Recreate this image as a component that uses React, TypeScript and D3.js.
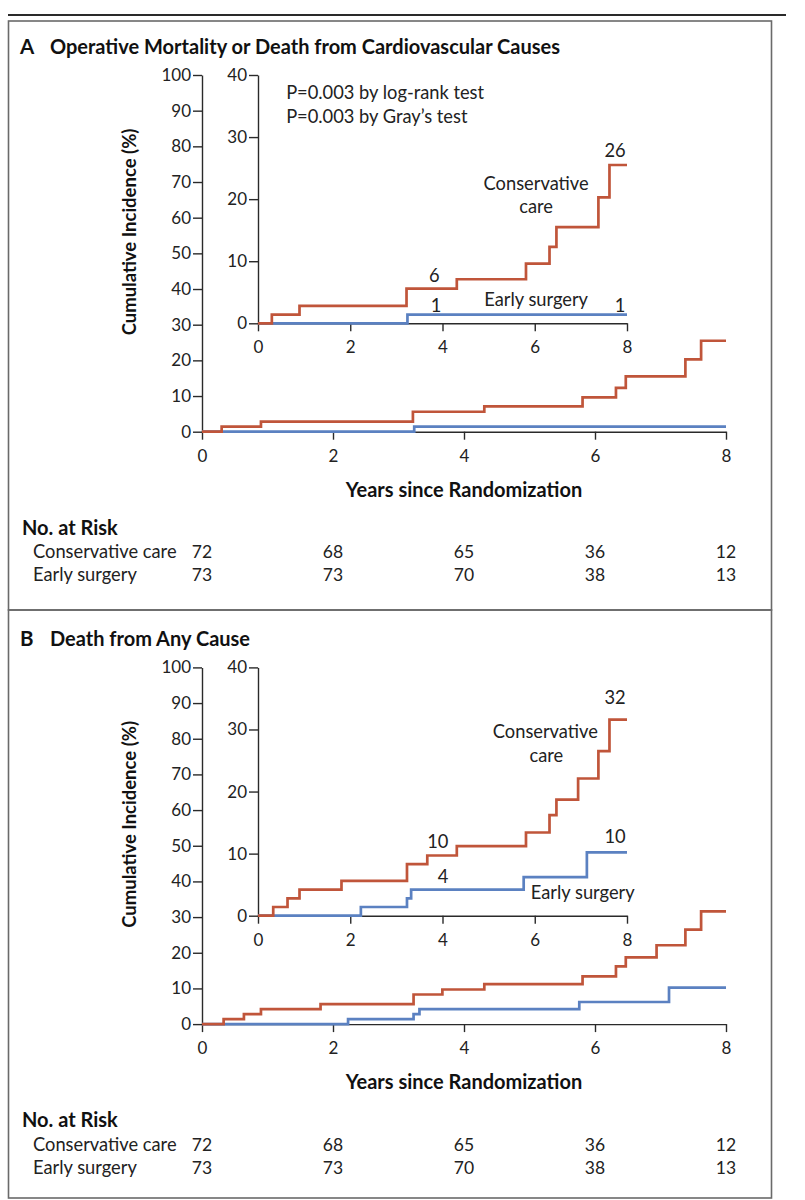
import { useEffect, useRef } from "react"
import * as d3 from "d3"

const FONT = "Lato, 'Open Sans', sans-serif"
const RED = "#c0553a"
const BLUE = "#5b81c1"
const INK = "#2a2a2a"

const yearTicks = [0, 2, 4, 6, 8]
const mainTicks = [0, 10, 20, 30, 40, 50, 60, 70, 80, 90, 100]
const insetTicks = [0, 10, 20, 30, 40]
const groups = ["Conservative care", "Early surgery"]

// Panel A: operative mortality or CV death
const cvConsYears = [0, 0.3, 0.9, 3.22, 4.31, 5.81, 6.32, 6.47, 7.38, 7.62, 8]
const cvConsPct = [0, 1.4, 2.8, 5.6, 7.1, 9.6, 12.3, 15.5, 20.3, 25.5, 25.5]
const cvSurgYears = [0, 3.24, 8]
const cvSurgPct = [0, 1.4, 1.4]
const cvRiskCons = [72, 68, 65, 36, 12]
const cvRiskSurg = [73, 73, 70, 38, 13]

// Panel B: death from any cause
const allConsYears = [0, 0.33, 0.64, 0.9, 1.81, 3.23, 3.67, 4.31, 5.81, 6.32, 6.47, 6.94, 7.38, 7.62, 8]
const allConsPct = [0, 1.4, 2.8, 4.2, 5.6, 8.3, 9.7, 11.2, 13.4, 16.2, 18.7, 22.1, 26.5, 31.6, 31.6]
const allSurgYears = [0, 2.23, 3.23, 3.32, 5.76, 7.13, 8]
const allSurgPct = [0, 1.4, 2.8, 4.2, 6.2, 10.2, 10.2]
const allRiskCons = [72, 68, 65, 36, 12]
const allRiskSurg = [73, 73, 70, 38, 13]

type Note = { text: string; t: number; v: number; anchor?: string }

const panels = [
  {
    letter: "A",
    title: "Operative Mortality or Death from Cardiovascular Causes",
    dy: 0,
    cons: d3.zip(cvConsYears, cvConsPct),
    surg: d3.zip(cvSurgYears, cvSurgPct),
    risk: [cvRiskCons, cvRiskSurg],
    notes: [
      { text: "P=0.003 by log-rank test", t: 0.61, v: 36.1, anchor: "start" },
      { text: "P=0.003 by Gray\u2019s test", t: 0.61, v: 32.2, anchor: "start" },
      { text: "26", t: 7.74, v: 26.8 },
      { text: "Conservative", t: 6.03, v: 21.5 },
      { text: "care", t: 6.03, v: 17.8 },
      { text: "6", t: 3.82, v: 6.7 },
      { text: "1", t: 3.86, v: 1.87 },
      { text: "Early surgery", t: 6.03, v: 2.8 },
      { text: "1", t: 7.85, v: 1.87 },
    ] as Note[],
  },
  {
    letter: "B",
    title: "Death from Any Cause",
    dy: 592.4,
    cons: d3.zip(allConsYears, allConsPct),
    surg: d3.zip(allSurgYears, allSurgPct),
    risk: [allRiskCons, allRiskSurg],
    notes: [
      { text: "32", t: 7.74, v: 34.1 },
      { text: "Conservative", t: 6.23, v: 28.6 },
      { text: "care", t: 6.25, v: 24.8 },
      { text: "10", t: 3.9, v: 10.85 },
      { text: "4", t: 4.01, v: 5.2 },
      { text: "10", t: 7.74, v: 11.66 },
      { text: "Early surgery", t: 7.04, v: 2.64 },
    ] as Note[],
  },
]

const boxes = [
  [21, 610],
  [610, 1198],
]

export default function App() {
  const svgRef = useRef<SVGSVGElement | null>(null)

  useEffect(() => {
    const svg = d3.select(svgRef.current)
    svg.selectAll("*").remove()
    svg.attr("font-family", FONT)

    svg.append("rect").attr("width", 805).attr("height", 1200).attr("fill", "#fff")
    svg.append("line")
      .attr("x1", 8).attr("x2", 786).attr("y1", 15).attr("y2", 15)
      .attr("stroke", INK).attr("stroke-width", 2)

    boxes.forEach(([top, bottom]) => {
      svg.append("rect")
        .attr("x", 8.5).attr("y", top).attr("width", 763).attr("height", bottom - top)
        .attr("fill", "none").attr("stroke", "#6a6a6a").attr("stroke-width", 1.6)
    })

    const x = d3.scaleLinear().domain([0, 8]).range([202, 726])
    const y = d3.scaleLinear().domain([0, 100]).range([431.7, 75])
    const xi = d3.scaleLinear().domain([0, 8]).range([258, 627])
    const yi = d3.scaleLinear().domain([0, 40]).range([323.3, 75])

    const styleAxis = (ax: d3.Selection<SVGGElement, unknown, null, undefined>) => {
      ax.attr("font-family", FONT).attr("font-size", 17)
      ax.select(".domain").attr("stroke", INK).attr("stroke-width", 1.4)
      ax.selectAll(".tick line").attr("stroke", INK).attr("stroke-width", 1.4)
      ax.selectAll(".tick text").attr("fill", "#222")
    }

    panels.forEach((p) => {
      const g = svg.append("g").attr("transform", `translate(0,${p.dy})`)

      // title
      g.append("text").attr("x", 20).attr("y", 54)
        .attr("font-size", 20.5).attr("font-weight", 700).attr("fill", "#111")
        .text(p.letter)
      g.append("text").attr("x", 50).attr("y", 54)
        .attr("font-size", 20).attr("font-weight", 700).attr("fill", "#111")
        .text(p.title)

      // main axes
      g.append("g").attr("transform", `translate(${x(0)},0)`)
        .call(d3.axisLeft(y).tickValues(mainTicks).tickSize(9).tickSizeOuter(0).tickPadding(2))
        .call(styleAxis)
      g.append("g").attr("transform", `translate(0,${y(0)})`)
        .call(d3.axisBottom(x).tickValues(yearTicks).tickFormat(d3.format("d")).tickSize(8).tickSizeOuter(0).tickPadding(10))
        .call(styleAxis)

      const line = d3.line<[number, number]>()
        .curve(d3.curveStepAfter)
        .x((d) => x(d[0]))
        .y((d) => y(d[1]))
      const lineI = d3.line<[number, number]>()
        .curve(d3.curveStepAfter)
        .x((d) => xi(d[0]))
        .y((d) => yi(d[1]))

      const series = [
        { data: p.surg, color: BLUE },
        { data: p.cons, color: RED },
      ]
      series.forEach((s) => {
        g.append("path").datum(s.data as [number, number][])
          .attr("fill", "none").attr("stroke", s.color).attr("stroke-width", 2.7)
          .attr("d", line)
      })

      // inset
      g.append("g").attr("transform", `translate(${xi(0)},0)`)
        .call(d3.axisLeft(yi).tickValues(insetTicks).tickSize(9).tickSizeOuter(0).tickPadding(2))
        .call(styleAxis)
      g.append("g").attr("transform", `translate(0,${yi(0)})`)
        .call(d3.axisBottom(xi).tickValues(yearTicks).tickFormat(d3.format("d")).tickSize(8).tickSizeOuter(0).tickPadding(10))
        .call(styleAxis)
      series.forEach((s) => {
        g.append("path").datum(s.data as [number, number][])
          .attr("fill", "none").attr("stroke", s.color).attr("stroke-width", 2.7)
          .attr("d", lineI)
      })

      g.selectAll(".note")
        .data(p.notes)
        .enter()
        .append("text")
        .attr("x", (d) => xi(d.t))
        .attr("y", (d) => yi(d.v))
        .attr("text-anchor", (d) => d.anchor ?? "middle")
        .attr("font-size", 18.3)
        .attr("fill", "#222")
        .text((d) => d.text)

      // axis titles
      g.append("text")
        .attr("transform", `translate(136,232) rotate(-90)`)
        .attr("text-anchor", "middle")
        .attr("font-size", 18.5).attr("font-weight", 700).attr("fill", "#111")
        .text("Cumulative Incidence (%)")
      g.append("text")
        .attr("x", x(4)).attr("y", 497)
        .attr("text-anchor", "middle")
        .attr("font-size", 20).attr("font-weight", 700).attr("fill", "#111")
        .text("Years since Randomization")

      // number at risk
      g.append("text").attr("x", 22).attr("y", 535)
        .attr("font-size", 20).attr("font-weight", 700).attr("fill", "#111")
        .text("No. at Risk")
      groups.forEach((name, gi) => {
        const rowY = 558.3 + gi * 23
        g.append("text").attr("x", 33).attr("y", rowY)
          .attr("font-size", 18.3).attr("fill", "#222")
          .text(name)
        g.selectAll(`.risk${gi}`)
          .data(p.risk[gi])
          .enter()
          .append("text")
          .attr("x", (_d, k) => x(yearTicks[k]))
          .attr("y", rowY)
          .attr("text-anchor", "middle")
          .attr("font-size", 17.5)
          .attr("fill", "#222")
          .text((d) => d)
      })
    })
  }, [])

  return <svg ref={svgRef} width={805} height={1200} style={{ position: "absolute", left: 0, top: 0 }} />
}
